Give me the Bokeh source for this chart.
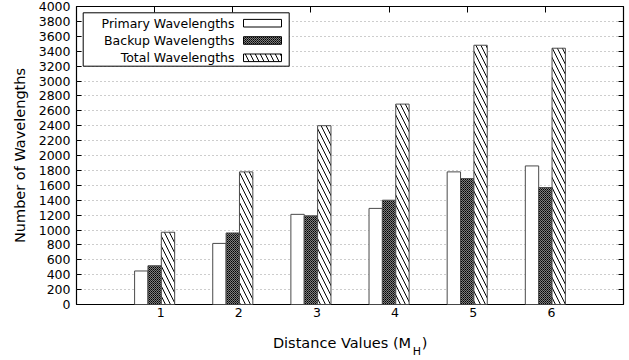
from bokeh.plotting import figure
from bokeh.models import (ColumnDataSource, FixedTicker, LinearAxis, Range1d,
                          BoxAnnotation, Label)
from bokeh.embed import file_html
from bokeh.resources import INLINE

# ---- data ----
distances = [1, 2, 3, 4, 5, 6]
tick_labels = ["1", "2", "3", "4", "5", "6"]
primary = [450, 820, 1210, 1290, 1780, 1860]
backup = [520, 960, 1190, 1400, 1690, 1570]
total = [970, 1780, 2400, 2690, 3480, 3440]
series_names = ["Primary Wavelengths", "Backup Wavelengths", "Total Wavelengths"]
y_ticks = list(range(0, 4001, 200))

FONT = "DejaVu Sans"
TICK_FS = "12.5px"
LABEL_FS = "14.5px"
BAR_W = 0.171
OFFS = [-BAR_W, 0.0, BAR_W]

p = figure(width=629, height=360, output_backend="svg", toolbar_location=None,
           x_range=Range1d(0, 7), y_range=Range1d(0, 4000),
           min_border_left=76, min_border_right=6, min_border_top=6,
           min_border_bottom=56, title=None)
p.background_fill_color = "white"
p.border_fill_color = "white"
p.outline_line_color = "black"
p.outline_line_width = 1.2

# grid
p.xgrid.grid_line_color = None
p.ygrid.grid_line_color = "#9a9a9a"
p.ygrid.grid_line_dash = "1 3"
p.ygrid.grid_line_width = 1
p.ygrid.ticker = FixedTicker(ticks=y_ticks)

# y axis
p.yaxis.ticker = FixedTicker(ticks=y_ticks)
p.yaxis.axis_line_color = None
p.yaxis.major_tick_out = 0
p.yaxis.major_tick_in = 5
p.yaxis.minor_tick_line_color = None
p.yaxis.major_label_standoff = 6
p.yaxis.major_label_text_font = FONT
p.yaxis.major_label_text_font_size = TICK_FS
p.yaxis.major_label_text_color = "black"
p.yaxis.axis_label = "Number of Wavelengths"
p.yaxis.axis_label_text_font = FONT
p.yaxis.axis_label_text_font_size = LABEL_FS
p.yaxis.axis_label_text_font_style = "normal"
p.yaxis.axis_label_text_color = "black"
p.yaxis.axis_label_standoff = 8

# x axis (labels slightly right of group centres, as in the reference)
lab_pos = [d + 0.077 for d in distances]
p.xaxis.ticker = FixedTicker(ticks=lab_pos)
p.xaxis.major_label_overrides = {pos: t for pos, t in zip(lab_pos, tick_labels)}
p.xaxis.axis_line_color = None
p.xaxis.major_tick_line_color = None
p.xaxis.major_tick_out = 0
p.xaxis.minor_tick_line_color = None
p.xaxis.major_label_standoff = 3
p.xaxis.major_label_text_font = FONT
p.xaxis.major_label_text_font_size = TICK_FS
p.xaxis.major_label_text_color = "black"

# x axis title "Distance Values (M_H)" built from label-only axes
px_x = 7 / 547.0
px_y = 4000 / 298.0
t_main = (341.5 - 76) * px_x
t_paren = (424.0 - 76) * px_x
t_sub = (416.4 - 76) * px_x
title_axis = LinearAxis(ticker=FixedTicker(ticks=[t_main, t_paren]),
                        major_label_overrides={t_main: "Distance Values (M",
                                               t_paren: ")"},
                        axis_line_color=None, major_tick_line_color=None,
                        major_tick_out=0, major_tick_in=0,
                        minor_tick_line_color=None, major_label_standoff=15,
                        major_label_text_font=FONT,
                        major_label_text_font_size=LABEL_FS,
                        major_label_text_color="black")
p.add_layout(title_axis, "below")
sub_axis = LinearAxis(ticker=FixedTicker(ticks=[t_sub]),
                      major_label_overrides={t_sub: "H"},
                      axis_line_color=None, major_tick_line_color=None,
                      major_tick_out=0, major_tick_in=0,
                      minor_tick_line_color=None, major_label_standoff=-9,
                      major_label_text_font=FONT,
                      major_label_text_font_size="11px",
                      major_label_text_color="black")
p.add_layout(sub_axis, "below")

# mirrored tick marks (no labels)
top = LinearAxis(ticker=FixedTicker(ticks=distances), axis_line_color=None,
                 major_tick_out=0, major_tick_in=6, minor_tick_line_color=None,
                 major_label_text_font_size="1px", major_label_text_color=None,
                 major_label_text_alpha=0, major_label_standoff=0)
p.add_layout(top, "above")
right = LinearAxis(ticker=FixedTicker(ticks=y_ticks),
                   axis_line_color=None, major_tick_out=0, major_tick_in=5,
                   minor_tick_line_color=None,
                   major_label_text_font_size="1px", major_label_text_color=None,
                   major_label_text_alpha=0, major_label_standoff=0)
p.add_layout(right, "right")

# bars
src = ColumnDataSource(dict(
    x0=[d + OFFS[0] for d in distances],
    x1=[d + OFFS[1] for d in distances],
    x2=[d + OFFS[2] for d in distances],
    primary=primary, backup=backup, total=total))

EDGE = "#4a4a4a"
CHECK = dict(hatch_pattern="criss_cross", hatch_color="black", hatch_scale=2,
             hatch_weight=1)
DIAG = dict(hatch_pattern="left_diagonal_line", hatch_color="black",
            hatch_scale=10, hatch_weight=1)
p.vbar(x="x0", top="primary", bottom=0, width=BAR_W, source=src,
       fill_color="white", line_color=EDGE, line_width=1)
p.vbar(x="x1", top="backup", bottom=0, width=BAR_W, source=src,
       fill_color="white", line_color=EDGE, line_width=1, **CHECK)
p.vbar(x="x2", top="total", bottom=0, width=BAR_W, source=src,
       fill_color="white", line_color=EDGE, line_width=1, **DIAG)

# ---- legend (gnuplot style: label right-aligned, sample on the right) ----
p.add_layout(BoxAnnotation(left=6.7 * px_x, right=212.7 * px_x,
                           top=(304 - 12.3) * px_y, bottom=(304 - 65.7) * px_y,
                           fill_color="white", fill_alpha=1,
                           line_color="black", line_width=1, line_alpha=1))
rows_y = [(304 - 22.7) * px_y, (304 - 40.0) * px_y, (304 - 57.3) * px_y]
half_h = 3.8 * px_y
styles = [dict(), CHECK, DIAG]
for name, yc, st in zip(series_names, rows_y, styles):
    p.add_layout(Label(x=158 * px_x, y=yc, text=name, text_align="right",
                       text_baseline="middle", text_font=FONT,
                       text_font_size=TICK_FS, text_color="black"))
    p.add_layout(BoxAnnotation(left=167 * px_x, right=205 * px_x,
                               top=yc + half_h, bottom=yc - half_h,
                               fill_color="white", fill_alpha=1,
                               line_color="black", line_width=1, line_alpha=1,
                               **st))

open("out.html", "w").write(file_html(p, INLINE))
